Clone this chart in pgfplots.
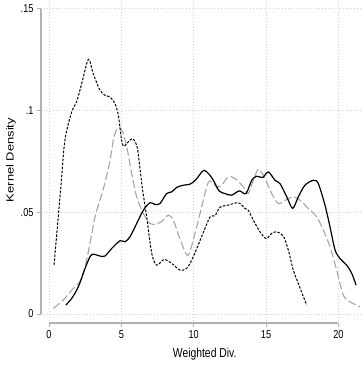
\documentclass[border=0pt]{standalone}
\usepackage{graphicx}
\usepackage{pgfplots}
\pgfplotsset{compat=1.18}
\usepackage{fontspec}
\setmainfont{Liberation Sans}
\newcommand{\sx}[1]{\scalebox{0.8}[1]{#1}}

\pgfplotstableread{
x y
1.17 0.0044
1.57 0.0077
2.03 0.0134
2.49 0.0224
2.83 0.0281
3.06 0.0294
3.52 0.0285
3.87 0.0285
4.33 0.0322
4.91 0.0360
5.25 0.0355
5.60 0.0380
6.06 0.0445
6.52 0.0510
6.98 0.0547
7.33 0.0538
7.67 0.0543
8.13 0.0592
8.48 0.0600
8.82 0.0622
9.28 0.0633
9.74 0.0638
10.15 0.0660
10.67 0.0705
11.05 0.0688
11.36 0.0657
11.75 0.0605
12.16 0.0592
12.62 0.0584
13.15 0.0605
13.61 0.0592
14.01 0.0657
14.35 0.0677
14.77 0.0671
15.16 0.0698
15.62 0.0657
15.96 0.0641
16.43 0.0576
16.84 0.0519
17.23 0.0576
17.69 0.0633
18.27 0.0657
18.61 0.0641
19.07 0.0535
19.42 0.0428
19.77 0.0314
20.11 0.0273
20.57 0.0240
20.92 0.0200
21.22 0.0142
}\solid

\pgfplotstableread{
x y
0.30 0.0028
0.99 0.0069
1.68 0.0126
2.14 0.0159
2.49 0.0232
2.83 0.0347
3.18 0.0477
3.52 0.0559
3.85 0.0640
4.22 0.0756
4.49 0.0870
4.79 0.0916
5.09 0.0895
5.32 0.0837
5.50 0.0775
5.71 0.0690
6.06 0.0576
6.52 0.0494
6.98 0.0445
7.44 0.0442
7.90 0.0461
8.25 0.0486
8.59 0.0461
9.05 0.0370
9.60 0.0288
10.10 0.0400
10.55 0.0527
10.90 0.0625
11.13 0.0654
11.59 0.0625
11.93 0.0633
12.39 0.0674
12.85 0.0666
13.43 0.0625
13.77 0.0592
14.24 0.0682
14.51 0.0711
14.93 0.0666
15.39 0.0592
15.85 0.0543
16.31 0.0559
16.88 0.0576
17.35 0.0559
17.92 0.0519
18.50 0.0477
18.96 0.0412
19.42 0.0330
19.88 0.0216
20.34 0.0093
20.80 0.0060
21.49 0.0036
}\grayd

\pgfplotstableread{
x y
0.35 0.0242
0.81 0.0617
1.10 0.0854
1.57 0.0993
1.91 0.1043
2.26 0.1132
2.72 0.1251
3.06 0.1180
3.52 0.1100
3.87 0.1075
4.22 0.1066
4.56 0.1034
4.79 0.0977
5.02 0.0854
5.18 0.0824
5.48 0.0846
5.78 0.0862
6.06 0.0829
6.18 0.0780
6.45 0.0620
6.75 0.0477
7.10 0.0298
7.44 0.0240
7.95 0.0268
8.48 0.0249
9.05 0.0216
9.51 0.0224
9.86 0.0265
10.20 0.0320
10.66 0.0400
11.13 0.0477
11.47 0.0483
11.82 0.0525
12.39 0.0535
13.08 0.0547
13.55 0.0519
13.77 0.0510
14.12 0.0461
14.58 0.0404
15.00 0.0371
15.39 0.0396
15.74 0.0404
16.19 0.0383
16.54 0.0314
16.88 0.0216
17.23 0.0150
17.58 0.0085
17.81 0.0044
}\shortd

\begin{document}
\begin{tikzpicture}
\begin{axis}[name=ax, scale only axis, width=321bp, height=323.3bp,
  xmin=-0.553, xmax=21.63, ymin=-0.00456, ymax=0.1543,
  axis x line*=bottom, axis y line*=left, axis line style={draw=none},
  clip=false,
  xtick={0,5,10,15,20}, xticklabels={\sx{0},\sx{5},\sx{10},\sx{15},\sx{20}},
  ytick={0,0.05,0.1,0.15}, yticklabels={\sx{0},\sx{.05},\sx{.1},\sx{.15}},
  tick align=outside, major tick length=4bp,
  tick style={gray!60, line width=0.9bp},
  ticklabel style={font=\fontsize{11.5}{13}\selectfont, text=black},
  grid=major, major grid style={gray!35, line width=0.7bp, dash pattern=on 0.7bp off 2.2bp},
  xlabel={\sx{Weighted Div.}}, ylabel={\scalebox{1}[0.8]{Kernel Density}},
  label style={font=\fontsize{13}{15}\selectfont},
  xlabel style={at={(axis description cs:0.51,-0.107)}, anchor=base},
  ylabel style={at={(axis description cs:-0.0935,0.505)}, anchor=center},
]
\draw[gray!60, line width=1.7bp] (axis cs:0,-0.00456) -- (axis cs:20,-0.00456);
\draw[gray!60, line width=1.7bp] (axis cs:-0.553,0) -- (axis cs:-0.553,0.15);
\addplot[gray!70, line width=1.1bp, dash pattern=on 8bp off 3bp, smooth, tension=0.5] table {\grayd};
\addplot[black, line width=1.0bp, dash pattern=on 2.5bp off 1.5bp, smooth, tension=0.5] table {\shortd};
\addplot[black, line width=1.2bp, smooth, tension=0.5] table {\solid};
\end{axis}
\pgfresetboundingbox
\path[use as bounding box] ([xshift=-41bp,yshift=-45.7bp]ax.south west) rectangle (ax.north east);
\end{tikzpicture}
\end{document}
